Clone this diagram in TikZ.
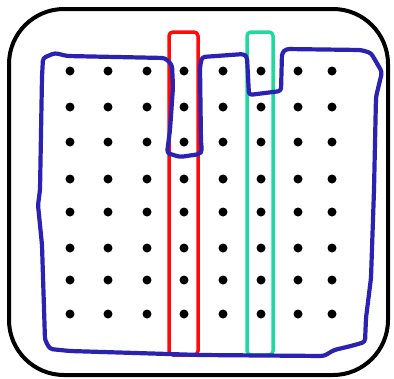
\documentclass[tikz,border=0pt]{standalone}
\definecolor{boardblack}{HTML}{000000}
\definecolor{stripred}{HTML}{FF0A0A}
\definecolor{stripgreen}{HTML}{1FDAA0}
\definecolor{outlineblue}{HTML}{2B22B2}
\begin{document}
\begin{tikzpicture}[x=1pt,y=-1pt,
  frame/.style={draw=boardblack,line width=4pt,rounded corners=55pt},
  strip/.style={line width=3.5pt,rounded corners=4pt},
  hole/.style={circle,fill=black,inner sep=0pt,minimum size=9pt},
  hand/.style={draw=outlineblue,line width=4.2pt,line join=round,line cap=round,rounded corners=3pt}]
\useasboundingbox (0,0) rectangle (394,378);
% board outline
\draw[frame] (9,9) rectangle (388,375);
% grid of holes
\foreach \c/\x in {1/70,2/108,3/147,4/184,5/223,6/261,7/298,8/332}{
  \foreach \r/\y in {1/71,2/107,3/142,4/179,5/212,6/248,7/280,8/314}{
    \node[hole] (h\c\r) at (\x,\y) {};
  }
}
% highlighted columns
\draw[strip,draw=stripred] (169,32) rectangle (198,355);
\draw[strip,draw=stripgreen] (247,32) rectangle (273,355);
% hand-drawn selection boundary
\draw[hand] (43,58) -- (55,53) -- (67,56) -- (165,58) -- (172,65) -- (173,87)
  -- (170,130) -- (167,153) -- (180,157) -- (200,154) -- (202,150) -- (201,143)
  -- (200,67) -- (202,57) -- (244,54) -- (247,57) -- (249,95) -- (281,91)
  -- (282,53) -- (286,49) -- (361,50) -- (371,53) -- (382,72) -- (376,97)
  -- (374,190) -- (371,278) -- (366,318) -- (365,342) -- (351,346) -- (334,350)
  -- (324,356) -- (200,355) -- (168,354) -- (70,351) -- (50,349) -- (45,340)
  -- (42,245) -- (38,205) -- (40,190) -- (42,77) -- cycle;
\end{tikzpicture}
\end{document}
